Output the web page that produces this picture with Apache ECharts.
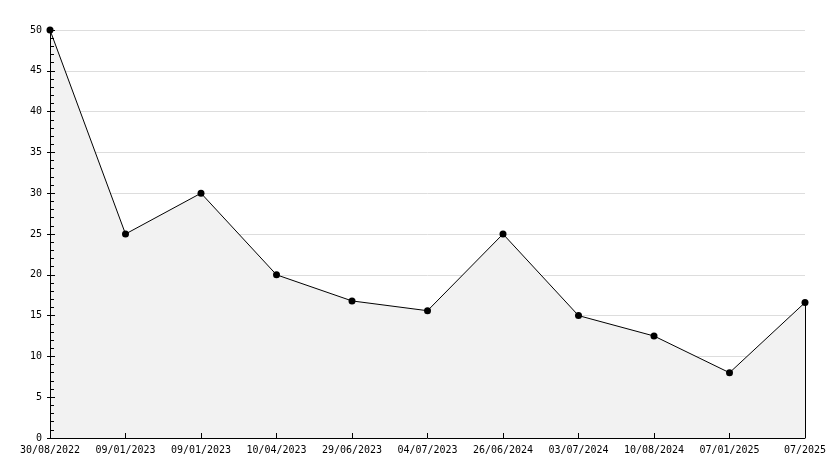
<!DOCTYPE html>
<html><head><meta charset="utf-8">
<script src="https://cdn.jsdelivr.net/npm/echarts@6/dist/echarts.min.js"></script>
<style>html,body{margin:0;padding:0;background:#fff}#c{width:834px;height:468px}</style>
</head><body><div id="c"></div>
<script>
const categories = ['30/08/2022','09/01/2023','09/01/2023','10/04/2023','29/06/2023','04/07/2023','26/06/2024','03/07/2024','10/08/2024','07/01/2025','07/2025'];
const values = [50, 25, 30, 20, 16.8, 15.6, 25, 15, 12.5, 8, 16.6];
const yMin = 0, yMax = 50, yStep = 5;

const font = {fontFamily: 'DejaVu Sans Mono', fontSize: 10, color: '#000'};
const chart = echarts.init(document.getElementById('c'));
chart.setOption({
  animation: false,
  grid: {left: 50, right: 29, top: 30, bottom: 30},
  xAxis: {
    type: 'category', data: categories, boundaryGap: false, z: 10,
    axisLine: {lineStyle: {color: '#000', width: 1}},
    axisTick: {inside: true, length: 5, lineStyle: {color: '#000'}},
    axisLabel: Object.assign({margin: 7, interval: 0}, font),
    splitLine: {show: false}
  },
  yAxis: [{
    type: 'value', min: yMin, max: yMax, interval: yStep, z: 10,
    axisLine: {show: true, lineStyle: {color: '#000', width: 1}},
    axisTick: {show: true, inside: true, length: 5, lineStyle: {color: '#000'}},
    minorTick: {show: true, splitNumber: 5, length: 4, lineStyle: {color: '#000'}},
    axisLabel: Object.assign({margin: 8}, font),
    splitLine: {show: false}
  }, {
    type: 'value', min: yMin, max: yMax, interval: yStep, position: 'left', z: 10,
    axisLine: {show: false},
    axisTick: {show: true, inside: false, length: 3, lineStyle: {color: '#000'}},
    axisLabel: {show: false},
    splitLine: {show: false}
  }, {
    type: 'value', min: yMin, max: yMax, interval: yStep, position: 'left', z: 0,
    axisLine: {show: false}, axisTick: {show: false}, axisLabel: {show: false},
    splitLine: {show: true, lineStyle: {color: '#dddddd', width: 1}}
  }],
  series: [{
    type: 'line', data: values, z: 2,
    symbol: 'circle', symbolSize: 7,
    itemStyle: {color: '#000'},
    lineStyle: {color: '#000', width: 1},
    areaStyle: {color: '#f2f2f2', opacity: 1},
    markLine: {
      silent: true, symbol: 'none', label: {show: false},
      lineStyle: {color: '#000', width: 1, type: 'solid'},
      data: [[{coord: [categories.length - 1, 0]}, {coord: [categories.length - 1, values[values.length - 1]]}]]
    }
  }]
});
</script></body></html>
